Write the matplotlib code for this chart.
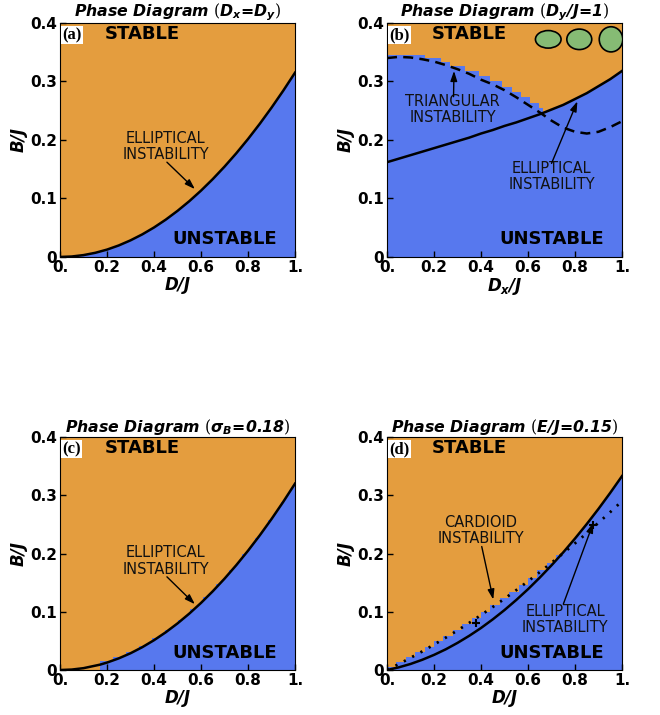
import numpy as np
import matplotlib.pyplot as plt
from matplotlib.patches import Ellipse

plt.rcParams['font.family'] = ['DejaVu Sans']
plt.rcParams['mathtext.fontset'] = 'custom'
plt.rcParams['mathtext.it'] = 'DejaVu Sans:italic:bold'
plt.rcParams['mathtext.bf'] = 'DejaVu Sans:italic:bold'
plt.rcParams['mathtext.rm'] = 'DejaVu Serif'

# ---- data ----
D = [0.0, 0.05, 0.1, 0.15, 0.2, 0.25, 0.3, 0.35, 0.4, 0.45, 0.5,
     0.55, 0.6, 0.65, 0.7, 0.75, 0.8, 0.85, 0.9, 0.95, 1.0]

# (a) D_x = D_y
B_a = [0.0, 0.0008, 0.0032, 0.0071, 0.0126, 0.0197, 0.0284, 0.0386, 0.0504, 0.0638, 0.0788,
       0.0953, 0.1134, 0.1331, 0.1544, 0.1772, 0.2016, 0.2276, 0.2552, 0.2843, 0.315]

# (b) D_y/J = 1
B_b_ellip = [0.162, 0.168, 0.174, 0.180, 0.186, 0.192, 0.198, 0.204, 0.211, 0.217, 0.224,
             0.230, 0.237, 0.244, 0.252, 0.260, 0.270, 0.280, 0.292, 0.304, 0.318]
B_b_tri = [0.340, 0.342, 0.341, 0.338, 0.334, 0.328, 0.321, 0.313, 0.303, 0.295, 0.285,
           0.273, 0.260, 0.247, 0.233, 0.221, 0.214, 0.211, 0.214, 0.222, 0.232]
stairs_b_D = [0.0, 0.16, 0.23, 0.27, 0.33, 0.39, 0.44, 0.49, 0.53, 0.57, 0.61, 0.645, 0.665]
stairs_b_B = [0.346, 0.340, 0.333, 0.326, 0.318, 0.309, 0.300, 0.291, 0.282, 0.273, 0.264, 0.255, 0.255]
shape_D = [0.686, 0.818, 0.953]
shape_w = [0.109, 0.106, 0.100]
shape_h = [0.030, 0.035, 0.043]

# (c) sigma_B = 0.18
D_c = [0.0, 0.05, 0.1, 0.17, 0.2, 0.25, 0.3, 0.35, 0.4, 0.45, 0.5,
       0.55, 0.6, 0.65, 0.7, 0.75, 0.8, 0.85, 0.9, 0.95, 1.0]
B_c = [0.0, 0.0008, 0.0032, 0.0092, 0.0128, 0.020, 0.0288, 0.0392, 0.0512, 0.0648, 0.080,
       0.0968, 0.1152, 0.1352, 0.1568, 0.180, 0.2048, 0.2312, 0.2592, 0.2888, 0.320]
teeth_c_D = [0.17, 0.225, 0.28, 0.335, 0.39, 0.445, 0.5, 0.555, 0.61, 0.665,
             0.72, 0.775, 0.83, 0.885, 0.94, 1.0]
teeth_c_B = [0.015, 0.022, 0.031, 0.042, 0.055, 0.069, 0.086, 0.105, 0.125, 0.148,
             0.172, 0.199, 0.227, 0.257, 0.289, 0.320]

# (d) E/J = 0.15
B_d_ellip = [0.0, 0.0046, 0.0104, 0.0176, 0.026, 0.0356, 0.0466, 0.0588, 0.0722, 0.087, 0.103,
             0.1203, 0.1388, 0.1587, 0.1798, 0.2021, 0.2258, 0.2507, 0.2768, 0.3043, 0.333]
B_d_card = [0.0, 0.0102, 0.0209, 0.032, 0.0436, 0.0556, 0.0681, 0.081, 0.0944, 0.1082, 0.1225,
            0.1372, 0.1524, 0.168, 0.1841, 0.2006, 0.2176, 0.235, 0.2529, 0.2712, 0.290]
stairs_d_D = [0.0, 0.04, 0.08, 0.12, 0.16, 0.20, 0.24, 0.28, 0.32, 0.36, 0.40,
              0.44, 0.48, 0.52, 0.56, 0.60, 0.64, 0.68, 0.72, 0.76, 0.80]
stairs_d_B = [0.006, 0.014, 0.023, 0.031, 0.040, 0.050, 0.059, 0.069, 0.079, 0.090, 0.100,
              0.111, 0.123, 0.134, 0.146, 0.158, 0.171, 0.184, 0.197, 0.210, 0.210]
marks_d_D = [0.38, 0.877]
marks_d_B = [0.080, 0.249]

x_ticks = [0.0, 0.2, 0.4, 0.6, 0.8, 1.0]
x_tick_labels = ['0.', '0.2', '0.4', '0.6', '0.8', '1.']
y_ticks = [0.0, 0.1, 0.2, 0.3, 0.4]
y_tick_labels = ['0', '0.1', '0.2', '0.3', '0.4']

ORANGE = '#E49D3E'
BLUE = '#5778EE'
GREEN = '#86BB74'


def panel(ax, title, xlabel, letter):
    ax.set_facecolor(ORANGE)
    ax.set_xlim(0, 1)
    ax.set_ylim(0, 0.4)
    ax.set_xticks(x_ticks)
    ax.set_xticklabels(x_tick_labels)
    ax.set_yticks(y_ticks)
    ax.set_yticklabels(y_tick_labels)
    ax.tick_params(direction='in', length=4.5, width=1, pad=2, labelsize=11)
    for lab in ax.get_xticklabels() + ax.get_yticklabels():
        lab.set_fontweight('bold')
    ax.set_title(title, fontsize=11.3, fontweight='bold', style='italic', pad=3)
    ax.set_xlabel(xlabel, fontsize=12, fontweight='bold', style='italic', labelpad=1)
    ax.set_ylabel('B/J', fontsize=12, fontweight='bold', style='italic', labelpad=2)
    ax.text(0.01, 0.983, letter, transform=ax.transAxes, ha='left', va='top',
            family='Liberation Serif', weight='bold', size=12, zorder=6,
            bbox=dict(facecolor='white', edgecolor='none', pad=1.0))
    ax.text(0.35, 0.381, 'STABLE', ha='center', va='center', weight='bold', size=13, zorder=6)
    ax.text(0.70, 0.030, 'UNSTABLE', ha='center', va='center', weight='bold', size=13, zorder=6)


def note(ax, text, pos, start, tip):
    ax.text(pos[0], pos[1], text, ha='center', va='center', size=10.5,
            color='#111111', linespacing=1.1, zorder=6)
    ax.annotate('', xy=tip, xytext=start, zorder=6,
                arrowprops=dict(arrowstyle='-|>,head_length=0.6,head_width=0.2',
                                color='black', lw=1.0, shrinkA=0, shrinkB=0))


fig = plt.figure(figsize=(6.6, 7.15), dpi=100)
ax_a = fig.add_axes([0.0909, 0.6406, 0.3561, 0.3273])
ax_b = fig.add_axes([0.5864, 0.6406, 0.3561, 0.3273])
ax_c = fig.add_axes([0.0909, 0.0629, 0.3561, 0.3259])
ax_d = fig.add_axes([0.5864, 0.0629, 0.3561, 0.3259])

# (a)
panel(ax_a, r'Phase Diagram $(D_x$=$D_y)$', 'D/J', '(a)')
ax_a.fill_between(D, 0, B_a, color=BLUE, lw=0)
ax_a.plot(D, B_a, color='black', lw=1.8)
note(ax_a, 'ELLIPTICAL\nINSTABILITY', (0.45, 0.189), (0.455, 0.162), (0.574, 0.116))

# (b)
panel(ax_b, r'Phase Diagram $(D_y$/J=1$)$', r'$D_x$/J', '(b)')
ax_b.fill_between(D, 0, B_b_ellip, color=BLUE, lw=0)
ax_b.fill_between(stairs_b_D, 0, stairs_b_B, step='post', color=BLUE, lw=0)
ax_b.plot(D, B_b_ellip, color='black', lw=1.8)
ax_b.plot(D, B_b_tri, color='black', lw=1.8, dashes=(4, 2.5))
for x, w, h in zip(shape_D, shape_w, shape_h):
    ax_b.add_patch(Ellipse((x, 0.372), w, h, facecolor=GREEN, edgecolor='black', lw=1.2, zorder=5))
note(ax_b, 'TRIANGULAR\nINSTABILITY', (0.28, 0.252), (0.283, 0.274), (0.285, 0.318))
note(ax_b, 'ELLIPTICAL\nINSTABILITY', (0.70, 0.137), (0.70, 0.160), (0.81, 0.266))

# (c)
panel(ax_c, r'Phase Diagram $(\sigma_B$=0.18$)$', 'D/J', '(c)')
D_c_arr = np.array(D_c)
ax_c.fill_between(D_c, 0, B_c, where=D_c_arr >= 0.17, color=BLUE, lw=0)
ax_c.fill_between(teeth_c_D, 0, teeth_c_B, step='post', color=BLUE, lw=0)
ax_c.plot(D_c, B_c, color='black', lw=1.8)
note(ax_c, 'ELLIPTICAL\nINSTABILITY', (0.45, 0.187), (0.455, 0.160), (0.574, 0.113))

# (d)
panel(ax_d, r'Phase Diagram $(E$/J=0.15$)$', 'D/J', '(d)')
ax_d.fill_between(D, 0, B_d_ellip, color=BLUE, lw=0)
ax_d.fill_between(stairs_d_D, 0, stairs_d_B, step='post', color=BLUE, lw=0)
ax_d.plot(D, B_d_ellip, color='black', lw=1.8)
ax_d.plot(D, B_d_card, color='black', lw=2.0, dashes=(0.8, 2.6))
ax_d.plot(marks_d_D, marks_d_B, '+', color='black', ms=6, mew=1.5, zorder=6)
note(ax_d, 'CARDIOID\nINSTABILITY', (0.40, 0.239), (0.403, 0.212), (0.452, 0.121))
note(ax_d, 'ELLIPTICAL\nINSTABILITY', (0.757, 0.087), (0.75, 0.113), (0.878, 0.253))

fig.savefig('out.png', dpi=100)
